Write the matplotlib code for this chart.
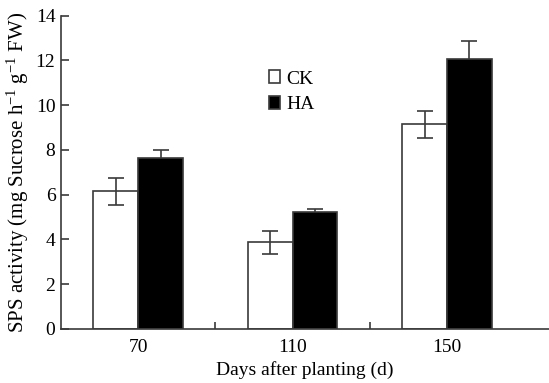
import numpy as np
import matplotlib
matplotlib.use("Agg")
import matplotlib.pyplot as plt
from matplotlib.ticker import FixedLocator

plt.rcParams['font.family'] = ['Liberation Serif', 'DejaVu Serif']
plt.rcParams['mathtext.fontset'] = 'custom'
plt.rcParams['mathtext.rm'] = 'Liberation Serif'
plt.rcParams['mathtext.it'] = 'Liberation Serif:italic'

# data
days = ['70', '110', '150']
ck = [6.15, 3.87, 9.14]
ck_err = [0.6, 0.52, 0.6]
ha = [7.63, 5.24, 12.05]
ha_err = [0.38, 0.14, 0.8]

edge = '#3a3a3a'
fs = 14
fig = plt.figure(figsize=(5.49, 3.83), dpi=100)
ax = fig.add_axes([0.111, 0.141, 0.889, 0.818])

x = np.arange(len(days))
w = 0.29
ax.bar(x - w / 2, ck, w, color='white', edgecolor=edge, linewidth=1.2, label='CK', zorder=2)
ax.errorbar(x - w / 2, ck, yerr=ck_err, fmt='none', ecolor=edge, elinewidth=1.2,
            capsize=6, capthick=1.2, zorder=3)
ax.bar(x + w / 2, ha, w, color='black', edgecolor=edge, linewidth=1.2, label='HA', zorder=2)
ax.errorbar(x + w / 2, ha, yerr=ha_err, fmt='none', ecolor=edge, elinewidth=1.2,
            capsize=6, capthick=1.2, zorder=1)

ax.set_xlim(-0.5, 2.66)
ax.set_ylim(0, 14)
ax.set_yticks(np.arange(0, 15, 2))
ax.set_xticks(x)
ax.set_xticklabels(days)
ax.xaxis.set_minor_locator(FixedLocator([0.5, 1.5]))
ax.tick_params(axis='x', which='major', length=0, labelsize=fs, pad=7)
ax.tick_params(axis='x', which='minor', direction='in', length=5, color=edge, width=1.2)
ax.tick_params(axis='y', direction='in', length=6, color=edge, width=1.2, labelsize=fs, pad=4)

for s in ['top', 'right']:
    ax.spines[s].set_visible(False)
for s in ['left', 'bottom']:
    ax.spines[s].set_color(edge)
    ax.spines[s].set_linewidth(1.2)

ax.set_xlabel('Days after planting (d)', fontsize=fs, labelpad=4)
ax.set_ylabel(r'SPS activity (mg Sucrose h$^{-1}$ g$^{-1}$ FW)', fontsize=15, labelpad=3)

ax.legend(loc='upper left', bbox_to_anchor=(0.41, 0.85), frameon=False, fontsize=fs,
          handlelength=0.6, handleheight=0.6, handletextpad=0.3, labelspacing=0.45,
          borderaxespad=0)

fig.savefig('out.png', dpi=100)
